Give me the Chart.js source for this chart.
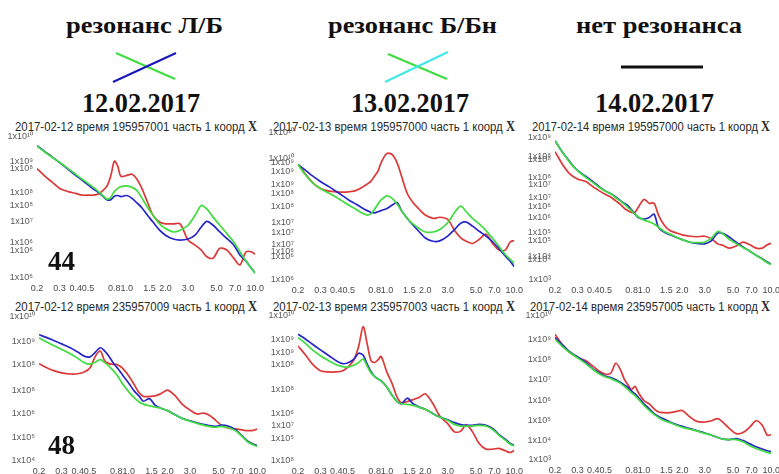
<!DOCTYPE html>
<html>
<head>
<meta charset="utf-8">
<script src="https://cdn.jsdelivr.net/npm/chart.js@4.4.0/dist/chart.umd.min.js"></script>
<style>
html,body{margin:0;padding:0;background:#fff;width:779px;height:474px;overflow:hidden;position:relative}
.fit{position:absolute;white-space:nowrap;transform-origin:left top}
.hd{font-family:'Liberation Serif','Times New Roman',serif;font-weight:bold;color:#111}
.tt{font-family:'Liberation Sans',Arial,sans-serif;color:#2a2a2a}
.tt b{font-family:'Liberation Serif',serif;font-size:1.1em}
.num{position:absolute;font-family:'Liberation Serif',serif;font-weight:bold;font-size:27px;line-height:27px;color:#111}
</style>
</head>
<body>

<div class="fit hd" data-l="66" data-r="223" data-b="33" data-fs="23">резонанс Л/Б</div>
<div class="fit hd" data-l="328" data-r="497" data-b="33" data-fs="23">резонанс Б/Бн</div>
<div class="fit hd" data-l="576" data-r="742" data-b="33" data-fs="23">нет резонанса</div>
<div class="fit hd" data-l="82" data-r="200" data-b="113" data-fs="27">12.02.2017</div>
<div class="fit hd" data-l="351" data-r="469" data-b="113" data-fs="27">13.02.2017</div>
<div class="fit hd" data-l="595" data-r="714" data-b="113" data-fs="27">14.02.2017</div>

<svg width="779" height="474" style="position:absolute;left:0;top:0">
  <line x1="116" y1="53" x2="175" y2="79" stroke="#3fdc3f" stroke-width="2"/>
  <line x1="113" y1="82" x2="176" y2="53" stroke="#1818b8" stroke-width="2"/>
  <line x1="388" y1="54" x2="447" y2="79" stroke="#3fdc3f" stroke-width="2"/>
  <line x1="385" y1="82" x2="448" y2="52" stroke="#3ee8e8" stroke-width="2"/>
  <line x1="621" y1="67" x2="703" y2="67" stroke="#111" stroke-width="3"/>
</svg>

<div class="fit tt" data-l="15" data-r="257" data-b="131" data-fs="12.5">2017-02-12 время 195957001 часть 1 коорд <b>X</b></div>
<div class="fit tt" data-l="273" data-r="515" data-b="131" data-fs="12.5">2017-02-13 время 195957000 часть 1 коорд <b>X</b></div>
<div class="fit tt" data-l="532" data-r="770" data-b="131" data-fs="12.5">2017-02-14 время 195957000 часть 1 коорд <b>X</b></div>
<div class="fit tt" data-l="15" data-r="257" data-b="311" data-fs="12.5">2017-02-12 время 235957009 часть 1 коорд <b>X</b></div>
<div class="fit tt" data-l="273" data-r="515" data-b="311" data-fs="12.5">2017-02-13 время 235957003 часть 1 коорд <b>X</b></div>
<div class="fit tt" data-l="530" data-r="770" data-b="311" data-fs="12.5">2017-02-14 время 235957005 часть 1 коорд <b>X</b></div>

<script>
// frequency points (shared by all six spectra)
const freq = [0.2,0.23,0.26,0.3,0.35,0.4,0.45,0.5,0.55,0.6,0.65,0.7,0.75,0.8,0.85,0.9,1.0,1.1,1.2,1.3,1.45,1.6,1.8,2.0,2.3,2.6,3.0,3.4,3.8,4.2,4.7,5.3,6.0,6.8,7.6,8.5,9.3,10];
const xTicks = [0.2,0.3,0.4,0.5,0.8,1.0,1.5,2.0,3.0,5.0,7.0,10.0];

// values are log10 of the power
// 12.02, 19:59
const red1   = [9.09,8.88,8.72,8.53,8.44,8.39,8.34,8.34,8.34,8.37,8.47,8.59,8.88,9.30,9.16,8.87,8.90,8.93,8.79,8.56,8.14,7.77,7.58,7.53,7.53,7.53,7.07,6.93,6.79,6.60,6.56,6.84,6.79,6.56,6.37,6.74,6.74,6.67];
const blue1  = [9.74,9.57,9.43,9.26,9.07,8.90,8.76,8.63,8.51,8.42,8.31,8.21,8.21,8.31,8.33,8.30,8.33,8.25,8.12,8.00,7.77,7.58,7.35,7.21,7.10,7.07,7.10,7.21,7.44,7.60,7.49,7.30,7.12,6.93,6.65,6.47,6.28,6.14];
const green1 = [9.73,9.56,9.42,9.27,9.09,8.93,8.79,8.67,8.56,8.45,8.33,8.23,8.28,8.44,8.53,8.58,8.60,8.56,8.47,8.28,8.00,7.77,7.53,7.40,7.30,7.35,7.49,7.77,8.05,7.95,7.72,7.49,7.26,7.02,6.74,6.47,6.28,6.14];
const yVal1  = [10,9.30,9.08,8.41,8.05,7.60,6.99,6.79,6];
const yTxt1  = ['1x10¹⁰','1x10⁹','1x10⁸','1x10⁸','1x10⁸','1x10⁷','1x10⁶','1x10⁶','1x10⁶'];

// 13.02, 19:59
const red2   = [9.13,8.86,8.64,8.48,8.41,8.39,8.38,8.39,8.41,8.46,8.53,8.60,8.68,8.82,8.95,9.18,9.43,9.40,9.18,8.82,8.33,8.10,7.91,7.76,7.67,7.70,7.64,7.34,7.14,7.05,6.99,7.10,7.24,6.98,6.81,6.81,7.03,7.07];
const blue2  = [9.13,8.97,8.82,8.67,8.53,8.40,8.28,8.17,8.09,8.01,7.94,7.88,7.83,7.82,7.85,7.88,7.94,8.03,8.10,7.88,7.66,7.49,7.30,7.14,7.05,7.06,7.19,7.37,7.54,7.57,7.46,7.32,7.19,7.03,6.85,6.65,6.51,6.36];
const green2 = [9.13,8.84,8.64,8.48,8.35,8.24,8.13,8.03,7.95,7.87,7.80,7.76,7.80,7.92,8.06,8.17,8.28,8.21,8.06,7.88,7.66,7.52,7.39,7.30,7.30,7.37,7.55,7.83,8.00,7.85,7.67,7.52,7.34,7.12,6.91,6.69,6.56,6.45];
const yVal2  = [10,9.29,9.18,8.95,8.60,8.35,7.99,7.55,7.30,6.97,6.76,6.64,6];
const yTxt2  = ['1x10¹⁰','1x10¹⁰','1x10⁹','1x10⁹','1x10⁹','1x10⁸','1x10⁸','1x10⁷','1x10⁷','1x10⁷','1x10⁶','1x10⁶','1x10⁶'];

// 14.02, 19:59
const red3   = [8.40,7.85,7.48,7.25,7.14,6.91,6.74,6.60,6.48,6.33,6.19,6.02,5.91,5.84,5.84,6.05,6.39,6.23,6.23,5.73,5.29,5.08,4.98,4.90,4.84,4.82,4.84,4.73,4.52,4.45,4.34,4.43,4.59,4.48,4.34,4.34,4.48,4.55];
const blue3  = [8.86,8.36,7.99,7.61,7.36,7.13,6.91,6.74,6.63,6.49,6.35,6.23,6.12,5.95,5.77,5.63,5.56,5.63,5.77,5.22,5.01,4.90,4.79,4.70,4.59,4.54,4.52,4.66,4.98,4.95,4.80,4.59,4.39,4.21,4.04,3.90,3.76,3.67];
const green3 = [8.86,8.36,7.96,7.60,7.32,7.09,6.88,6.73,6.63,6.46,6.33,6.19,6.05,5.91,5.77,5.66,5.52,5.45,5.36,5.22,5.04,4.93,4.80,4.70,4.59,4.57,4.59,4.77,5.04,4.93,4.70,4.54,4.37,4.21,4.04,3.87,3.73,3.65];
const yVal3  = [9,8.20,8.09,7.32,7.02,6.49,6.09,5.61,4.98,4.66,3.97,3.86,3];
const yTxt3  = ['1x10⁹','1x10⁸','1x10⁸','1x10⁸','1x10⁷','1x10⁷','1x10⁶','1x10⁶','1x10⁵','1x10⁵','1x10⁴','1x10⁴','1x10³'];

// 12.02, 23:59
const red4   = [8.04,7.87,7.75,7.66,7.61,7.62,7.69,7.87,8.35,8.56,8.15,8.04,8.01,8.01,7.94,7.83,7.53,7.18,6.84,6.68,6.68,6.70,6.81,6.94,6.70,6.36,6.11,5.95,5.99,5.91,5.71,5.47,5.36,5.33,5.29,5.26,5.27,5.33];
const blue4  = [9.24,9.12,9.00,8.86,8.70,8.52,8.35,8.32,8.52,8.70,8.56,8.35,8.10,7.91,7.73,7.55,7.23,6.91,6.70,6.48,6.59,6.32,6.18,6.09,5.92,5.77,5.67,5.58,5.52,5.47,5.44,5.49,5.44,5.29,5.05,4.81,4.70,4.64];
const green4 = [9.11,8.94,8.79,8.63,8.45,8.26,8.08,8.02,8.10,8.21,8.08,7.94,7.77,7.60,7.39,7.18,6.87,6.63,6.46,6.36,6.29,6.24,6.18,6.09,5.91,5.77,5.65,5.56,5.49,5.44,5.40,5.44,5.38,5.25,5.03,4.78,4.67,4.60];
const yVal4  = [10,8.97,8.01,6.91,5.95,4.99,4];
const yTxt4  = ['1x10¹⁰','1x10⁹','1x10⁸','1x10⁸','1x10⁶','1x10⁵','1x10⁴'];

// 13.02, 23:59
const red5   = [8.74,8.36,7.99,7.72,7.67,7.67,7.72,7.90,8.17,8.74,9.54,8.81,8.13,8.06,8.17,8.31,7.65,7.18,6.63,6.40,6.45,6.53,6.63,6.77,6.36,5.85,5.54,5.20,5.23,5.50,5.20,4.72,4.49,4.49,4.52,4.42,4.35,4.43];
const blue5  = [9.22,9.02,8.81,8.58,8.34,8.13,8.01,8.06,8.20,8.44,8.36,7.99,7.68,7.49,7.38,7.31,7.04,6.70,6.45,6.36,6.59,6.36,6.22,6.13,5.95,5.81,5.70,5.58,5.50,5.47,5.47,5.51,5.47,5.33,5.09,4.90,4.72,4.65];
const green5 = [9.09,8.84,8.58,8.34,8.13,7.97,7.89,7.87,7.95,8.06,8.20,7.90,7.63,7.49,7.38,7.30,7.04,6.70,6.45,6.36,6.33,6.29,6.21,6.13,5.95,5.81,5.68,5.51,5.44,5.44,5.44,5.47,5.44,5.29,5.06,4.86,4.69,4.62];
const yVal5  = [10,9.02,8.47,7.97,6.93,5.95,5.47,4.92,4];
const yTxt5  = ['1x10¹⁰','1x10⁹','1x10⁹','1x10⁸','1x10⁸','1x10⁶','1x10⁷','1x10⁵','1x10⁸'];

// 14.02, 23:59
const red6   = [9.09,8.56,8.21,7.97,7.80,7.53,7.28,7.15,7.21,7.68,7.40,6.92,6.63,6.41,6.57,6.28,5.88,5.72,5.48,5.32,5.29,5.29,5.35,5.40,5.08,4.87,4.84,4.90,5.00,4.81,4.52,4.28,4.33,4.60,4.90,4.68,4.20,4.23];
const blue6  = [8.93,8.56,8.24,8.00,7.72,7.40,7.20,7.05,6.99,6.89,6.76,6.63,6.51,6.33,6.20,6.04,5.72,5.48,5.24,5.11,4.97,4.84,4.71,4.63,4.52,4.42,4.31,4.20,4.09,4.01,3.99,4.04,3.94,3.78,3.64,3.53,3.45,3.40];
const green6 = [8.85,8.48,8.21,7.95,7.66,7.37,7.15,7.02,6.94,6.83,6.72,6.57,6.41,6.25,6.12,5.96,5.64,5.40,5.21,5.06,4.90,4.81,4.68,4.58,4.49,4.41,4.29,4.20,4.09,4.01,3.99,3.99,3.88,3.69,3.56,3.45,3.37,3.32];
const yVal6  = [10,8.85,7.88,6.92,5.88,4.92,3.93,3];
const yTxt6  = ['1x10¹⁰','1x10⁹','1x10⁸','1x10⁷','1x10⁶','1x10⁵','1x10⁴','1x10³'];

// fit the header/title texts into their boxes
document.querySelectorAll('.fit').forEach(el => {
  const fs = +el.dataset.fs, l = +el.dataset.l, r = +el.dataset.r, b = +el.dataset.b;
  el.style.fontSize = fs + 'px';
  el.style.lineHeight = fs + 'px';
  el.style.left = l + 'px';
  el.style.top = (b - 0.84 * fs) + 'px';
  const w = el.getBoundingClientRect().width;
  el.style.transform = 'scaleX(' + ((r - l) / w) + ')';
});

const tickFont = {family: "'Liberation Sans', Arial, sans-serif", size: 9};
const AX = 36, PT = 8, PR = 12, XH = 20;

function line(vals, color) {
  return {
    data: freq.map((f, i) => ({x: f, y: vals[i]})),
    borderColor: color, borderWidth: 1.7, pointRadius: 0, tension: 0.3, fill: false
  };
}

function panel(box, red, blue, green, yMin, yMax, yVal, yTxt) {
  const [l, r, t, b] = box;
  const W = AX + (r - l) + PR, H = PT + (b - t) + XH;
  const c = document.createElement('canvas');
  c.width = W; c.height = H;
  c.style.cssText = 'position:absolute;left:' + (l - AX) + 'px;top:' + (t - PT) + 'px;width:' + W + 'px;height:' + H + 'px';
  document.body.appendChild(c);
  new Chart(c, {
    type: 'line',
    data: {datasets: [line(green, '#3fdc3f'), line(blue, '#2626c8'), line(red, '#dd3838')]},
    options: {
      responsive: false, animation: false, devicePixelRatio: 1,
      layout: {autoPadding: false, padding: {top: PT, right: PR, left: 0, bottom: 0}},
      plugins: {legend: {display: false}, tooltip: {enabled: false}},
      scales: {
        x: {
          type: 'logarithmic', min: 0.2, max: 10,
          grid: {display: false, drawTicks: false}, border: {display: false},
          afterBuildTicks: s => { s.ticks = xTicks.map(v => ({value: v})); },
          afterFit: s => { s.height = XH; },
          ticks: {autoSkip: false, maxRotation: 0, padding: 5, font: tickFont, color: '#4a4a4a',
                  callback: v => Number(v).toFixed(1)}
        },
        y: {
          type: 'linear', min: yMin, max: yMax,
          grid: {display: false, drawTicks: false}, border: {display: false},
          afterBuildTicks: s => { s.ticks = yVal.map(v => ({value: v})); },
          afterFit: s => { s.width = AX; },
          ticks: {autoSkip: false, padding: 4, font: tickFont, color: '#5a5a5a',
                  callback: (v, i) => yTxt[i]}
        }
      }
    }
  });
}

panel([37, 257, 135, 278], red1, blue1, green1, 6, 10, yVal1, yTxt1);
panel([298, 516, 131, 280], red2, blue2, green2, 6, 10, yVal2, yTxt2);
panel([555, 773, 136, 280], red3, blue3, green3, 3, 9, yVal3, yTxt3);
panel([39, 259, 315, 461], red4, blue4, green4, 4, 10, yVal4, yTxt4);
panel([298, 516, 314, 461], red5, blue5, green5, 4, 10, yVal5, yTxt5);
panel([555, 773, 314, 460], red6, blue6, green6, 3, 10, yVal6, yTxt6);
</script>
<div class="num" style="left:48px;top:248px">44</div>
<div class="num" style="left:48px;top:432px">48</div>
</body>
</html>
